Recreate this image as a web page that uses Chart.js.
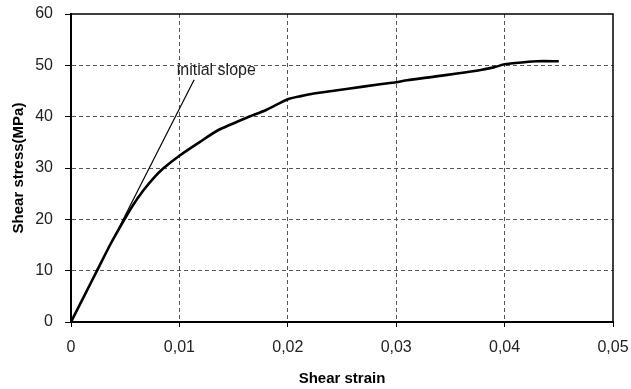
<!DOCTYPE html>
<html>
<head>
<meta charset="utf-8">
<script src="https://cdn.jsdelivr.net/npm/chart.js@4/dist/chart.umd.min.js"></script>
<style>
  html, body { margin: 0; padding: 0; background: #fff; }
  #wrap { width: 631px; height: 389px; }
</style>
</head>
<body>
<div id="wrap"><canvas id="chart"></canvas></div>
<script>
// --- DATA ---
const strainValues = [0, 0.0012, 0.0024, 0.0036, 0.0048, 0.0057, 0.0067, 0.0076, 0.0085, 0.01, 0.0119, 0.0136,
  0.0162, 0.018, 0.02, 0.0212, 0.0224, 0.0254, 0.0285, 0.03, 0.031, 0.0335, 0.0356, 0.0378, 0.039, 0.04,
  0.0418, 0.043, 0.045];
const stressValues = [0, 5, 10, 15, 19.5, 22.7, 25.7, 28, 29.9, 32.4, 35.1, 37.4,
  39.8, 41.3, 43.4, 44.0, 44.5, 45.4, 46.3, 46.7, 47.1, 47.8, 48.4, 49.1, 49.6, 50.2,
  50.6, 50.8, 50.8];

// initial slope line (start and end)
const slopeStrain = [0, 0.01136];
const slopeStress = [0, 47.2];

const xTickLabels = ['0', '0,01', '0,02', '0,03', '0,04', '0,05'];
const yTickLabels = ['0', '10', '20', '30', '40', '50', '60'];

const slopeLabel = { text: 'initial slope', x: 0.0134, y: 48.9 };

// --- HELPERS ---
const toPoints = (xs, ys) => xs.map((x, i) => ({ x: x, y: ys[i] }));

// grid lines at the outer ticks coincide with the frame
const innerGrid = (ctx) => {
  const n = ctx.scale.ticks.length;
  return ctx.index === 0 || ctx.index === n - 1 ? 'rgba(0,0,0,0)' : '#555';
};

// draws the box round the plot area and the "initial slope" note
const framePlugin = {
  id: 'frame',
  afterDraw(chart) {
    const { ctx, chartArea: a, scales } = chart;
    ctx.save();
    ctx.strokeStyle = '#000';
    ctx.lineWidth = 1.5;
    ctx.strokeRect(a.left, a.top, a.right - a.left, a.bottom - a.top);

    ctx.fillStyle = '#222';
    ctx.font = '16px "Liberation Sans", Arial, sans-serif';
    ctx.textAlign = 'center';
    ctx.textBaseline = 'middle';
    ctx.fillText(slopeLabel.text, scales.x.getPixelForValue(slopeLabel.x), scales.y.getPixelForValue(slopeLabel.y));
    ctx.restore();
  }
};

Chart.defaults.font.family = '"Liberation Sans", Arial, sans-serif';
Chart.defaults.color = '#222';

new Chart(document.getElementById('chart'), {
  type: 'scatter',
  data: {
    datasets: [
      {
        label: 'Shear stress',
        data: toPoints(strainValues, stressValues),
        showLine: true,
        borderColor: '#000',
        borderWidth: 2.6,
        pointRadius: 0,
        tension: 0.2
      },
      {
        label: 'initial slope',
        data: toPoints(slopeStrain, slopeStress),
        showLine: true,
        borderColor: '#000',
        borderWidth: 1.2,
        pointRadius: 0
      }
    ]
  },
  options: {
    responsive: true,
    maintainAspectRatio: false,
    animation: false,
    layout: { padding: { left: 0, right: 18, top: 14, bottom: 0 } },
    plugins: {
      legend: { display: false },
      tooltip: { enabled: false }
    },
    scales: {
      x: {
        type: 'linear',
        min: 0,
        max: 0.05,
        afterFit: (scale) => {
          scale.height = 67;
          scale.paddingLeft = 0;
          scale.paddingRight = 0;
        },
        ticks: {
          stepSize: 0.01,
          padding: 11,
          color: '#222',
          font: { size: 16 },
          maxRotation: 0,
          callback: (value, index) => xTickLabels[index]
        },
        grid: {
          color: innerGrid,
          tickColor: '#000',
          tickLength: 5,
          tickBorderDash: [],
          lineWidth: 1
        },
        border: { display: true, color: '#000', width: 2, dash: [4, 3] },
        title: {
          display: true,
          text: 'Shear strain',
          color: '#000',
          font: { size: 15, weight: 'bold' },
          padding: { top: 2, bottom: 1 }
        }
      },
      y: {
        min: 0,
        max: 60,
        afterFit: (scale) => {
          scale.width = 71;
          scale.paddingTop = 0;
          scale.paddingBottom = 0;
        },
        ticks: {
          stepSize: 10,
          padding: 12,
          color: '#222',
          font: { size: 16 },
          callback: (value, index) => yTickLabels[index]
        },
        grid: {
          color: innerGrid,
          tickColor: '#000',
          tickLength: 6,
          tickBorderDash: [],
          lineWidth: 1
        },
        border: { display: true, color: '#000', width: 2, dash: [4, 3] },
        title: {
          display: true,
          text: 'Shear stress(MPa)',
          color: '#000',
          font: { size: 15, weight: 'bold' },
          padding: { top: 10, bottom: 2 }
        }
      }
    }
  },
  plugins: [framePlugin]
});
</script>
</body>
</html>
